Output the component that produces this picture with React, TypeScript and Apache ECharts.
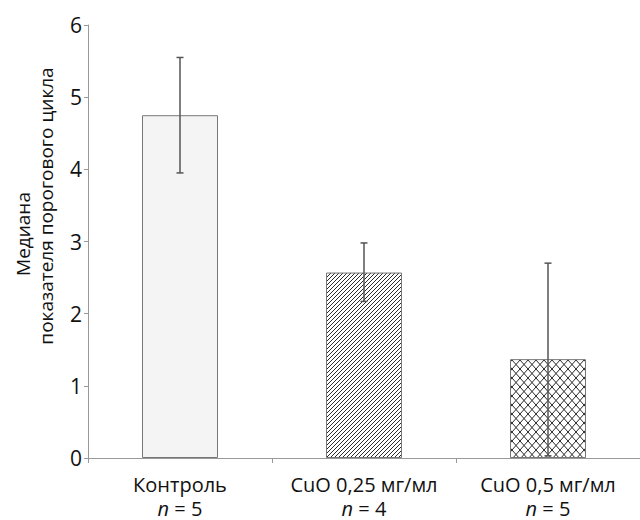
import React, { useEffect, useRef } from "react";
import * as echarts from "echarts";

const categories = ["Контроль", "CuO 0,25 мг/мл", "CuO 0,5 мг/мл"];
const groupSizes = [5, 4, 5];
const medians = [4.75, 2.57, 1.37];
const errLow = [3.95, 2.17, 0.03];
const errHigh = [5.55, 2.98, 2.7];
const yTicks = [0, 1, 2, 3, 4, 5, 6];
const yNameLines = ["Медиана", "показателя порогового цикла"];

function makePattern(kind: "diag" | "cross"): string {
  const c = document.createElement("canvas");
  const w = kind === "diag" ? 4 : 8;
  const h = kind === "diag" ? 4 : 9;
  c.width = w;
  c.height = h;
  const ctx = c.getContext("2d")!;
  ctx.fillStyle = "#ffffff";
  ctx.fillRect(0, 0, w, h);
  ctx.strokeStyle = "#2a2a2a";
  ctx.lineWidth = 1;
  ctx.beginPath();
  if (kind === "diag") {
    for (let k = -1; k <= 1; k++) {
      ctx.moveTo(-1 + k * w, h + 1);
      ctx.lineTo(w + 1 + k * w, -1);
    }
  } else {
    for (let k = -1; k <= 1; k++) {
      ctx.moveTo(k * w, 0);
      ctx.lineTo(w + k * w, h);
      ctx.moveTo(k * w, h);
      ctx.lineTo(w + k * w, 0);
    }
  }
  ctx.stroke();
  return c.toDataURL();
}

export default function App() {
  const ref = useRef<HTMLDivElement>(null);
  useEffect(() => {
    if (!ref.current) return;
    const chart = echarts.init(ref.current, undefined, { renderer: "svg" });
    const diag = makePattern("diag");
    const cross = makePattern("cross");
    const fills: any[] = [
      "#f4f4f4",
      { image: diag, repeat: "repeat" },
      { image: cross, repeat: "repeat" },
    ];
    const font = "'Open Sans', 'Noto Sans', sans-serif";
    chart.setOption({
      animation: false,
      backgroundColor: "#ffffff",
      grid: { left: 88, right: 0, top: 25, bottom: 62, containLabel: false },
      graphic: [
        {
          type: "text",
          x: 23,
          y: 234,
          rotation: Math.PI / 2,
          style: {
            text: yNameLines[0],
            fontSize: 19,
            fontFamily: font,
            fill: "#111111",
            align: "center",
            verticalAlign: "middle",
          },
        },
        {
          type: "text",
          x: 46,
          y: 206,
          rotation: Math.PI / 2,
          style: {
            text: yNameLines[1],
            fontSize: 19,
            fontFamily: font,
            fill: "#111111",
            align: "center",
            verticalAlign: "middle",
          },
        },
      ],
      xAxis: {
        type: "category",
        data: categories.map((c, i) => `{a|${c}}\n{i|n}{a| = ${groupSizes[i]}}`),
        axisLine: { lineStyle: { color: "#999999", width: 1 } },
        axisTick: { show: true, length: 5, lineStyle: { color: "#999999" } },
        axisLabel: {
          margin: 14,
          interval: 0,
          rich: {
            a: { fontSize: 20, fontFamily: font, color: "#111111", lineHeight: 24 },
            i: { fontSize: 20, fontFamily: font, color: "#111111", fontStyle: "italic", lineHeight: 24 },
          },
        },
      },
      yAxis: {
        type: "value",
        min: yTicks[0],
        max: yTicks[yTicks.length - 1],
        interval: 1,
        axisLine: { show: true, lineStyle: { color: "#999999", width: 1 } },
        axisTick: { show: true, length: 4, lineStyle: { color: "#999999" } },
        splitLine: { show: false },
        axisLabel: { fontSize: 21, fontFamily: font, color: "#111111", margin: 6 },
      },
      series: [
        {
          type: "bar",
          barWidth: 76,
          data: medians.map((v, i) => ({
            value: v,
            itemStyle: { color: fills[i], borderColor: "#777777", borderWidth: 1 },
          })),
        },
        {
          type: "custom",
          data: errLow.map((lo, i) => [i, lo, errHigh[i]]),
          z: 10,
          renderItem: (params: any, api: any) => {
            const idx = api.value(0);
            const lo = api.coord([idx, api.value(1)]);
            const hi = api.coord([idx, api.value(2)]);
            const cw = 3.5;
            const st = { stroke: "#555555", lineWidth: 1.5 };
            return {
              type: "group",
              children: [
                { type: "line", shape: { x1: lo[0], y1: lo[1], x2: hi[0], y2: hi[1] }, style: st },
                { type: "line", shape: { x1: lo[0] - cw, y1: lo[1], x2: lo[0] + cw, y2: lo[1] }, style: st },
                { type: "line", shape: { x1: hi[0] - cw, y1: hi[1], x2: hi[0] + cw, y2: hi[1] }, style: st },
              ],
            };
          },
        },
      ],
    });
    return () => chart.dispose();
  }, []);
  return (
    <div
      ref={ref}
      style={{ position: "absolute", left: 0, top: 0, width: 640, height: 520 }}
    />
  );
}
